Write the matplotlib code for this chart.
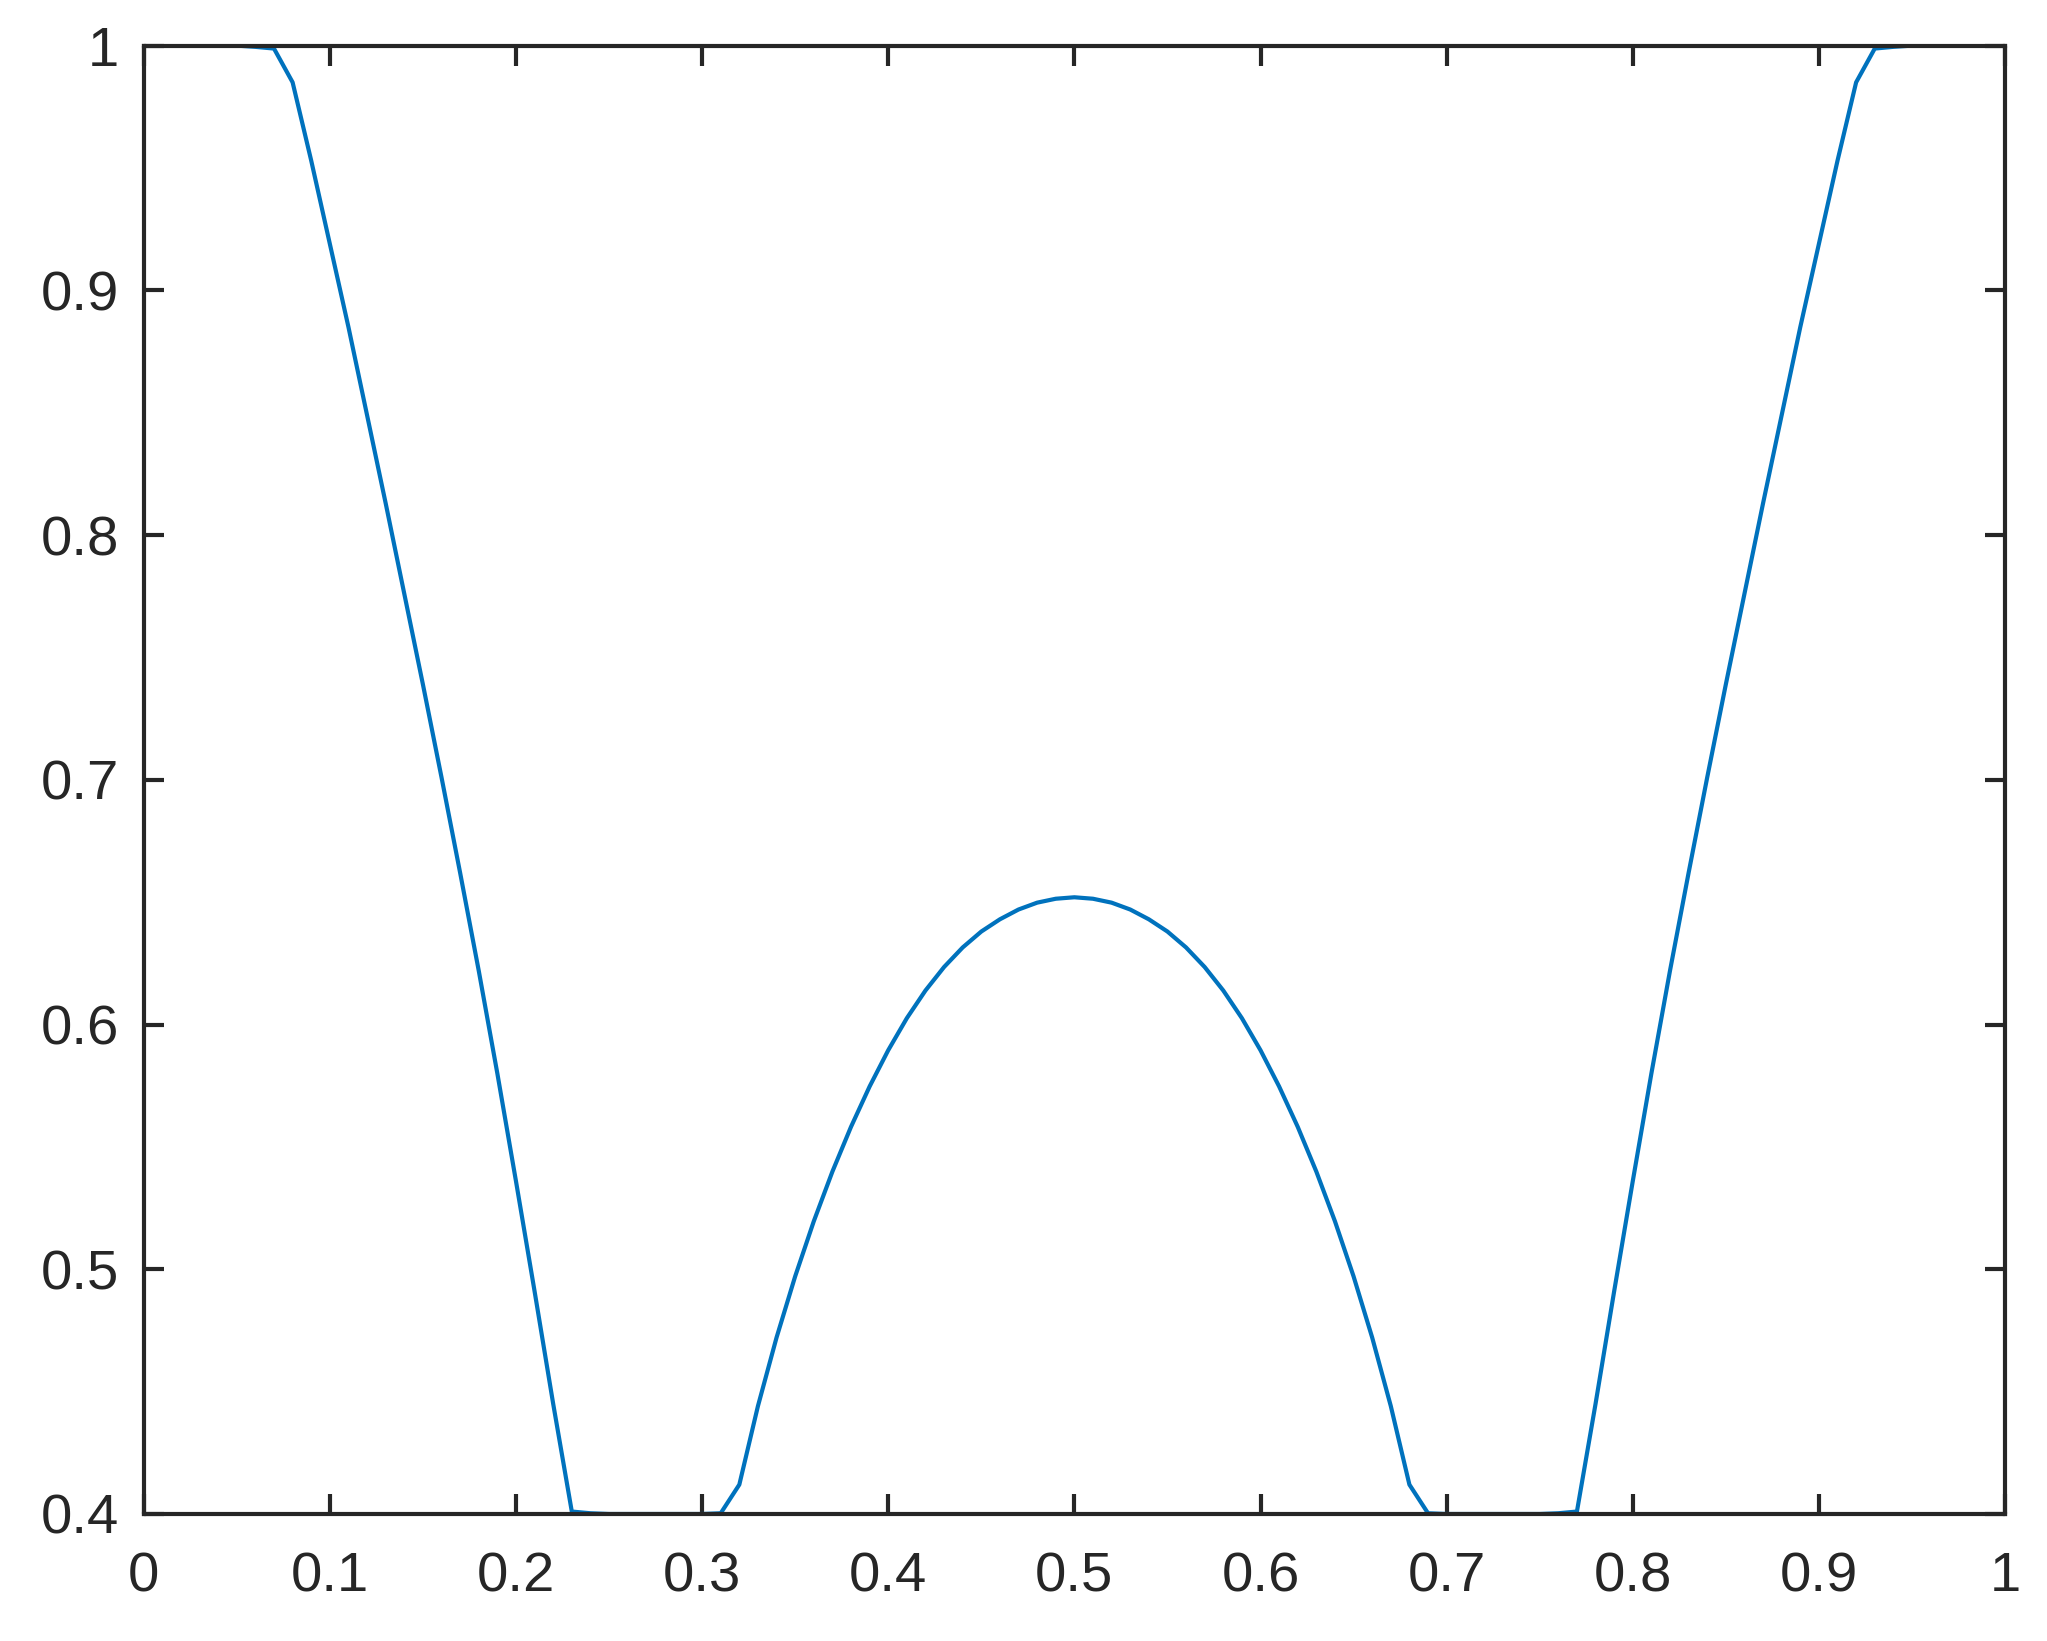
import numpy as np
import matplotlib.pyplot as plt

# x-arvot 0..1 askeleella 0.01, y luettu kuvasta (symmetrinen 0.5:n suhteen)
x = np.round(np.arange(0, 1.001, 0.01), 2)

left_half = [
    1.0, 1.0, 1.0, 1.0, 1.0, 1.0, 0.9995, 0.9988, 0.985, 0.953,   # 0.00-0.09
    0.919, 0.885, 0.849, 0.813, 0.776, 0.739, 0.701, 0.662, 0.622, 0.580,  # 0.10-0.19
    0.536, 0.491, 0.445, 0.401, 0.4003, 0.4, 0.4, 0.4, 0.4, 0.4,   # 0.20-0.29
    0.4, 0.4003, 0.412, 0.4441, 0.4721, 0.4971, 0.5196, 0.5399, 0.5582, 0.5747,  # 0.30-0.39
    0.5895, 0.6026, 0.6139, 0.6235, 0.6315, 0.638, 0.643, 0.647, 0.6498, 0.6514,  # 0.40-0.49
]
peak = [0.652]  # 0.50
y = left_half + peak + left_half[::-1]

fig = plt.figure(figsize=(2047 / 300, 1641 / 300), dpi=300)
ax = fig.add_axes([0.0702, 0.0774, 0.9093, 0.8948])

ax.plot(x, y, color='#0072BD', linewidth=1.0)

ax.set_xlim(0, 1)
ax.set_ylim(0.4, 1)
ax.set_xticks(np.arange(0, 1.01, 0.1))
ax.set_yticks(np.arange(0.4, 1.01, 0.1))
ax.set_xticklabels(['0', '0.1', '0.2', '0.3', '0.4', '0.5', '0.6', '0.7', '0.8', '0.9', '1'])
ax.set_yticklabels(['0.4', '0.5', '0.6', '0.7', '0.8', '0.9', '1'])

dark = '#262626'
for s in ax.spines.values():
    s.set_color(dark)
    s.set_linewidth(1.0)
ax.tick_params(direction='in', length=4.7, width=1.0, color=dark,
               labelcolor=dark, labelsize=13.5, top=True, right=True)
ax.tick_params(axis='x', pad=9)
ax.tick_params(axis='y', pad=6)
for lab in ax.get_xticklabels() + ax.get_yticklabels():
    lab.set_family('Liberation Sans')

fig.savefig('out.png', dpi=300)
